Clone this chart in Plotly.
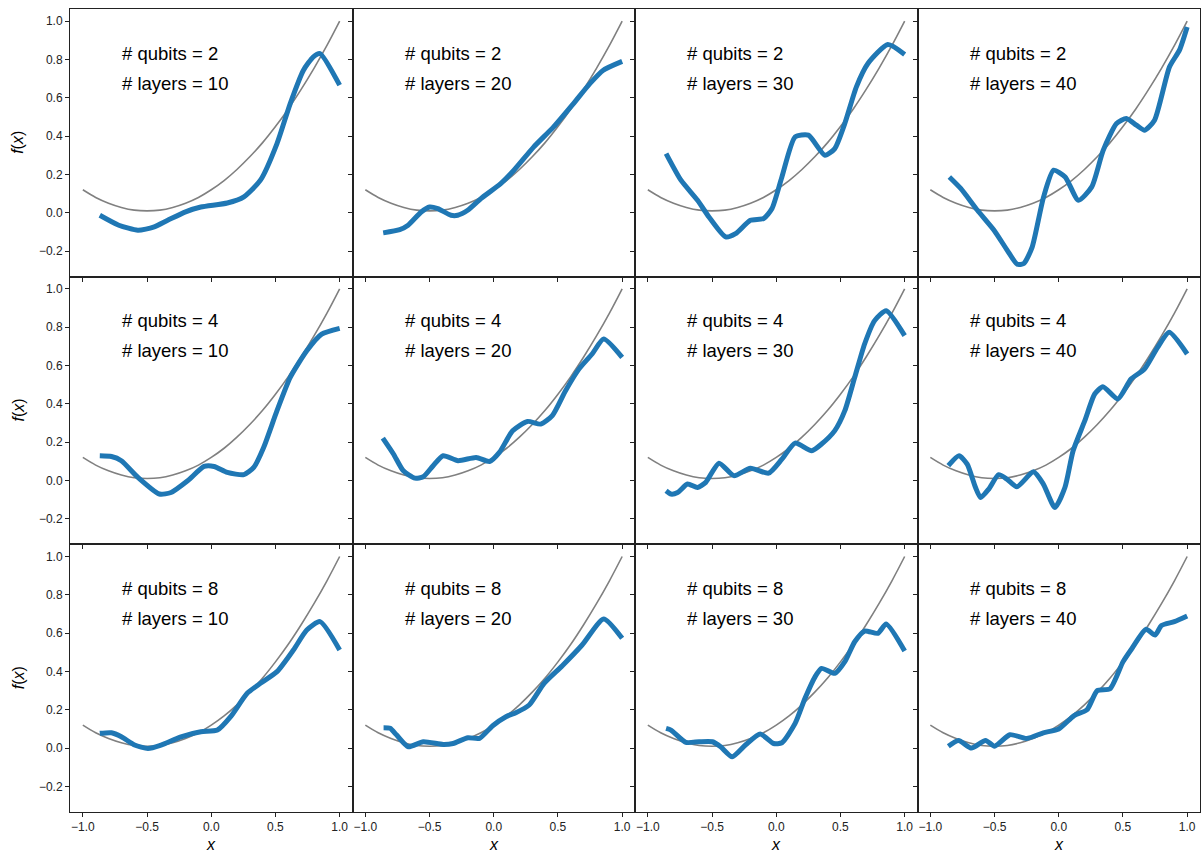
import plotly.graph_objects as go
from plotly.subplots import make_subplots

QUBITS = [2, 4, 8]
LAYERS = [10, 20, 30, 40]

# target function (gray)
TARGET_X = [-1.0, -0.9, -0.8, -0.7, -0.6, -0.5, -0.4, -0.3, -0.2, -0.1, 0.0,
            0.1, 0.2, 0.3, 0.4, 0.5, 0.6, 0.7, 0.8, 0.9, 1.0]
TARGET_Y = [0.120, 0.080, 0.050, 0.028, 0.014, 0.010, 0.014, 0.028, 0.050, 0.080, 0.120,
            0.168, 0.226, 0.292, 0.366, 0.450, 0.542, 0.644, 0.754, 0.872, 1.000]

# fitted curves (blue)
X_Q2_L10 = [-0.868, -0.72, -0.571, -0.45, -0.339, -0.2, -0.081, 0.125, 0.254, 0.383, 0.512, 0.615, 0.718, 0.795, 0.847, 1.0]
Y_Q2_L10 = [-0.013, -0.065, -0.091, -0.075, -0.039, 0.005, 0.03, 0.051, 0.083, 0.17, 0.361, 0.57, 0.744, 0.814, 0.831, 0.666]

X_Q2_L20 = [-0.861, -0.732, -0.667, -0.565, -0.5, -0.436, -0.333, -0.281, -0.203, -0.1, 0.054, 0.157, 0.312, 0.466, 0.621, 0.75, 0.853, 1.0]
Y_Q2_L20 = [-0.105, -0.088, -0.065, 0.004, 0.03, 0.022, -0.013, -0.013, 0.013, 0.074, 0.152, 0.222, 0.344, 0.448, 0.57, 0.675, 0.744, 0.79]

X_Q2_L30 = [-0.858, -0.742, -0.613, -0.524, -0.394, -0.317, -0.201, -0.098, -0.033, 0.044, 0.147, 0.25, 0.379, 0.456, 0.534, 0.624, 0.714, 0.869, 1.0]
Y_Q2_L30 = [0.309, 0.17, 0.065, -0.022, -0.126, -0.109, -0.039, -0.03, 0.022, 0.187, 0.396, 0.405, 0.3, 0.335, 0.466, 0.657, 0.779, 0.878, 0.826]

X_Q2_L40 = [-0.852, -0.762, -0.633, -0.504, -0.401, -0.323, -0.272, -0.207, -0.118, -0.04, 0.05, 0.153, 0.257, 0.346, 0.45, 0.527, 0.605, 0.669, 0.746, 0.862, 0.94, 1.0]
Y_Q2_L40 = [0.187, 0.126, 0.013, -0.091, -0.196, -0.269, -0.265, -0.179, 0.083, 0.222, 0.187, 0.065, 0.135, 0.326, 0.466, 0.492, 0.457, 0.431, 0.483, 0.761, 0.849, 0.97]

X_Q4_L10 = [-0.868, -0.777, -0.7, -0.571, -0.404, -0.313, -0.184, -0.056, 0.022, 0.125, 0.254, 0.331, 0.408, 0.512, 0.615, 0.744, 0.86, 1.0]
Y_Q4_L10 = [0.129, 0.125, 0.103, 0.016, -0.071, -0.063, -0.002, 0.073, 0.073, 0.042, 0.03, 0.068, 0.172, 0.364, 0.538, 0.677, 0.764, 0.794]

X_Q4_L20 = [-0.864, -0.781, -0.704, -0.614, -0.549, -0.472, -0.394, -0.278, -0.137, -0.033, 0.044, 0.147, 0.263, 0.366, 0.456, 0.559, 0.663, 0.766, 0.856, 1.0]
Y_Q4_L20 = [0.221, 0.138, 0.05, 0.012, 0.019, 0.077, 0.129, 0.103, 0.12, 0.099, 0.146, 0.259, 0.308, 0.294, 0.338, 0.468, 0.581, 0.66, 0.738, 0.642]

X_Q4_L30 = [-0.858, -0.82, -0.768, -0.691, -0.613, -0.549, -0.446, -0.33, -0.201, -0.06, 0.044, 0.147, 0.276, 0.353, 0.456, 0.534, 0.611, 0.688, 0.766, 0.856, 1.0]
Y_Q4_L30 = [-0.054, -0.071, -0.063, -0.019, -0.037, -0.01, 0.09, 0.025, 0.064, 0.038, 0.111, 0.195, 0.155, 0.19, 0.26, 0.364, 0.538, 0.712, 0.834, 0.886, 0.756]

X_Q4_L40 = [-0.86, -0.777, -0.713, -0.648, -0.609, -0.545, -0.468, -0.404, -0.326, -0.197, -0.12, -0.03, 0.048, 0.112, 0.203, 0.28, 0.344, 0.46, 0.563, 0.667, 0.77, 0.86, 1.0]
Y_Q4_L40 = [0.077, 0.129, 0.085, -0.037, -0.089, -0.045, 0.03, 0.007, -0.033, 0.045, -0.019, -0.141, -0.037, 0.155, 0.312, 0.451, 0.489, 0.425, 0.529, 0.581, 0.695, 0.773, 0.66]

X_Q8_L10 = [-0.868, -0.777, -0.7, -0.597, -0.493, -0.391, -0.236, -0.081, 0.048, 0.151, 0.28, 0.383, 0.512, 0.64, 0.744, 0.847, 1.0]
Y_Q8_L10 = [0.077, 0.08, 0.059, 0.016, -0.002, 0.016, 0.059, 0.085, 0.094, 0.164, 0.286, 0.338, 0.399, 0.512, 0.616, 0.66, 0.512]

X_Q8_L20 = [-0.858, -0.807, -0.756, -0.665, -0.549, -0.394, -0.317, -0.201, -0.111, -0.008, 0.095, 0.172, 0.276, 0.392, 0.534, 0.688, 0.856, 1.0]
Y_Q8_L20 = [0.106, 0.103, 0.068, 0.007, 0.033, 0.019, 0.024, 0.054, 0.051, 0.117, 0.164, 0.185, 0.225, 0.338, 0.43, 0.538, 0.674, 0.573]

X_Q8_L30 = [-0.858, -0.82, -0.704, -0.601, -0.497, -0.433, -0.343, -0.24, -0.124, -0.021, 0.044, 0.147, 0.224, 0.302, 0.353, 0.456, 0.534, 0.611, 0.688, 0.791, 0.856, 1.0]
Y_Q8_L30 = [0.103, 0.094, 0.03, 0.033, 0.033, 0.007, -0.045, 0.016, 0.073, 0.024, 0.028, 0.129, 0.26, 0.372, 0.416, 0.39, 0.451, 0.555, 0.611, 0.599, 0.648, 0.507]

X_Q8_L40 = [-0.86, -0.78, -0.68, -0.57, -0.5, -0.38, -0.25, -0.12, 0.0, 0.12, 0.22, 0.3, 0.4, 0.5, 0.57, 0.68, 0.75, 0.8, 0.9, 1.0]
Y_Q8_L40 = [0.01, 0.04, 0.0, 0.04, 0.01, 0.07, 0.05, 0.08, 0.1, 0.17, 0.2, 0.3, 0.31, 0.45, 0.52, 0.62, 0.59, 0.64, 0.66, 0.69]

FITS = [
    [(X_Q2_L10, Y_Q2_L10), (X_Q2_L20, Y_Q2_L20), (X_Q2_L30, Y_Q2_L30), (X_Q2_L40, Y_Q2_L40)],
    [(X_Q4_L10, Y_Q4_L10), (X_Q4_L20, Y_Q4_L20), (X_Q4_L30, Y_Q4_L30), (X_Q4_L40, Y_Q4_L40)],
    [(X_Q8_L10, Y_Q8_L10), (X_Q8_L20, Y_Q8_L20), (X_Q8_L30, Y_Q8_L30), (X_Q8_L40, Y_Q8_L40)],
]

X_TICKS = [-1.0, -0.5, 0.0, 0.5, 1.0]
Y_TICKS = [-0.2, 0.0, 0.2, 0.4, 0.6, 0.8, 1.0]

FONT = "Liberation Sans, Arial, Helvetica, sans-serif"
W, H = 1201, 855
ML, MR, MT, MB = 70, 1, 9, 43

fig = make_subplots(rows=3, cols=4, horizontal_spacing=0, vertical_spacing=0)

annotations = []
for r in range(3):
    for c in range(4):
        idx = r * 4 + c + 1
        fig.add_trace(go.Scatter(x=TARGET_X, y=TARGET_Y, mode="lines",
                                 line=dict(color="#808080", width=1.6, shape="spline", smoothing=1.0),
                                 showlegend=False, hoverinfo="skip"), row=r + 1, col=c + 1)
        fx, fy = FITS[r][c]
        fig.add_trace(go.Scatter(x=fx, y=fy, mode="lines",
                                 line=dict(color="#1f77b4", width=5, shape="spline", smoothing=0.6),
                                 showlegend=False), row=r + 1, col=c + 1)
        xr = "x" if idx == 1 else f"x{idx}"
        yr = "y" if idx == 1 else f"y{idx}"
        annotations.append(dict(x=-0.71, y=0.833, xref=xr, yref=yr, xanchor="left", yanchor="middle",
                                text=f"# qubits = {QUBITS[r]}", showarrow=False,
                                font=dict(family=FONT, size=18.5, color="black")))
        annotations.append(dict(x=-0.71, y=0.676, xref=xr, yref=yr, xanchor="left", yanchor="middle",
                                text=f"# layers = {LAYERS[c]}", showarrow=False,
                                font=dict(family=FONT, size=18.5, color="black")))

        fig.update_xaxes(row=r + 1, col=c + 1, range=[-1.1, 1.1], tickvals=X_TICKS, tickformat=".1f",
                         showticklabels=(r == 2), ticks="outside", ticklen=4, tickcolor="#222",
                         showline=True, linecolor="#222", linewidth=1, mirror=True,
                         showgrid=False, zeroline=False,
                         tickfont=dict(family=FONT, size=12, color="#222"))
        fig.update_yaxes(row=r + 1, col=c + 1, range=[-0.3335, 1.0635], tickvals=Y_TICKS, tickformat=".1f",
                         showticklabels=(c == 0), ticks="outside", ticklen=4, tickcolor="#222",
                         showline=True, linecolor="#222", linewidth=1, mirror=True,
                         showgrid=False, zeroline=False,
                         tickfont=dict(family=FONT, size=12, color="#222"))

pw = W - ML - MR
ph = H - MT - MB
for r in range(3):
    cy = MT + ph * (r + 0.5) / 3
    annotations.append(dict(x=(18 - ML) / pw, y=1 - (cy - MT) / ph, xref="paper", yref="paper",
                            xanchor="center", yanchor="middle", textangle=-90, showarrow=False,
                            text="<i>f</i>(<i>x</i>)", font=dict(family=FONT, size=16, color="black")))
for c in range(4):
    annotations.append(dict(x=(c + 0.5) / 4, y=1 - (844 - MT) / ph, xref="paper", yref="paper",
                            xanchor="center", yanchor="middle", showarrow=False,
                            text="<i>x</i>", font=dict(family=FONT, size=16, color="black")))

fig.update_layout(width=W, height=H, margin=dict(l=ML, r=MR, t=MT, b=MB),
                  paper_bgcolor="white", plot_bgcolor="white",
                  annotations=annotations, showlegend=False)

fig.write_html("out.html")
